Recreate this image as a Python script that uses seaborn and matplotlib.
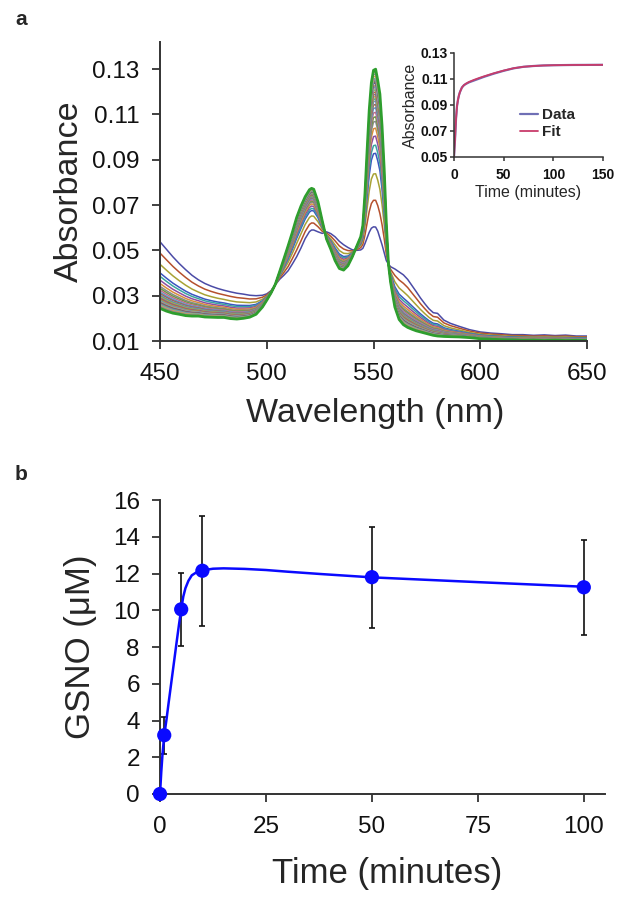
import numpy as np
import pandas as pd
import matplotlib
matplotlib.use("Agg")
import matplotlib.pyplot as plt
import seaborn as sns

# ---------------- data: panel a spectra ----------------
wavelength = [450, 453, 456, 459, 462, 465, 468, 471, 474, 477, 480, 483, 486, 489, 492, 495, 498,
              500, 502, 504, 506, 508, 510, 512, 514, 516, 518, 520, 521, 522, 524, 526, 528, 530,
              532, 534, 536, 538, 540, 542, 544, 545, 546, 547, 548, 549, 550, 551, 552, 553, 554,
              555, 556, 557, 558, 560, 562, 564, 566, 568, 570, 572, 574, 576, 578, 580, 583, 586,
              590, 595, 600, 605, 610, 615, 620, 625, 630, 635, 640, 645, 650]

spectrum_first = [0.0538, 0.0505, 0.0472, 0.0442, 0.0415, 0.0390, 0.0370, 0.0354, 0.0342, 0.0332,
                  0.0324, 0.0317, 0.0311, 0.0307, 0.0302, 0.0300, 0.0302, 0.0308, 0.0322, 0.0348,
                  0.0372, 0.0390, 0.0410, 0.0440, 0.0472, 0.0510, 0.0552, 0.0583, 0.0590, 0.0590,
                  0.0582, 0.0575, 0.0582, 0.0574, 0.0560, 0.0540, 0.0525, 0.0513, 0.0503, 0.0500,
                  0.0502, 0.0509, 0.0530, 0.0555, 0.0580, 0.0598, 0.0604, 0.0603, 0.0585, 0.0555,
                  0.0525, 0.0490, 0.0455, 0.0440, 0.0428, 0.0418, 0.0405, 0.0392, 0.0372, 0.0345,
                  0.0318, 0.0290, 0.0265, 0.0242, 0.0225, 0.0222, 0.0192, 0.0178, 0.0165, 0.0150,
                  0.0140, 0.0135, 0.0132, 0.0128, 0.0128, 0.0125, 0.0127, 0.0124, 0.0126, 0.0122,
                  0.0122]

spectrum_last = [0.0244, 0.0232, 0.0223, 0.0218, 0.0212, 0.0210, 0.0210, 0.0206, 0.0205, 0.0204,
                 0.0204, 0.0199, 0.0197, 0.0200, 0.0205, 0.0218, 0.0250, 0.0280, 0.0312, 0.0350,
                 0.0405, 0.0462, 0.0520, 0.0580, 0.0645, 0.0695, 0.0737, 0.0768, 0.0774, 0.0770,
                 0.0715, 0.0630, 0.0550, 0.0505, 0.0455, 0.0420, 0.0413, 0.0432, 0.0470, 0.0515,
                 0.0560, 0.0610, 0.0750, 0.0940, 0.1120, 0.1240, 0.1295, 0.1300, 0.1250, 0.1190,
                 0.1050, 0.0860, 0.0620, 0.0440, 0.0360, 0.0250, 0.0195, 0.0172, 0.0160, 0.0152,
                 0.0145, 0.0140, 0.0135, 0.0130, 0.0125, 0.0122, 0.0120, 0.0119, 0.0118, 0.0115,
                 0.0110, 0.0108, 0.0106, 0.0105, 0.0103, 0.0104, 0.0102, 0.0104, 0.0102, 0.0103,
                 0.0102]

# peak height at ~551 nm of each scan
peak_heights = [0.0604, 0.0722, 0.0839, 0.0929, 0.0965, 0.1005, 0.1040, 0.1070, 0.1090, 0.1110,
                0.1130, 0.1145, 0.1160, 0.1170, 0.1180, 0.1190, 0.1200, 0.1210, 0.1220, 0.1225,
                0.1230, 0.1240, 0.1245, 0.1250, 0.1255, 0.1260, 0.1270, 0.1280, 0.1290, 0.1300]

scan_colors = ['#4b4ba6', '#b5502d', '#a8a235', '#3a54c0', '#3aa5a0', '#8e4fa0', '#d98c3a',
               '#8a8a8a', '#6e9a45', '#c06d8a', '#5a9ad0', '#a06a4a', '#8a7ac0', '#4aa88a',
               '#c8a640', '#6a7a9a', '#c05050', '#90b050', '#9a6ab0', '#4ab0c8', '#c89a6a',
               '#4a5aa0', '#a04a5a', '#5a9a5a', '#b060a0', '#50b0b0', '#e0a050', '#8a80a0',
               '#9a9a50', '#2e9e2e']

# inset kinetics
inset_time = [0, 0.5, 1, 2, 3, 4, 5, 6, 8, 10, 12, 15, 20, 25, 30, 40, 50, 60, 70, 80, 90, 100, 120, 150]
inset_data = [0.050, 0.057, 0.063, 0.079, 0.089, 0.094, 0.0975, 0.1000, 0.1035, 0.1052, 0.1062,
              0.1074, 0.1088, 0.1102, 0.1116, 0.1141, 0.1163, 0.1182, 0.1194, 0.1200, 0.1204,
              0.1206, 0.1208, 0.1209]
inset_fit = [0.050, 0.057, 0.063, 0.079, 0.089, 0.094, 0.0975, 0.1000, 0.1035, 0.1053, 0.1064,
             0.1077, 0.1093, 0.1107, 0.1120, 0.1144, 0.1165, 0.1183, 0.1194, 0.1200, 0.1204,
             0.1206, 0.1208, 0.1209]

# ---------------- data: panel b ----------------
gsno_time = [0, 1, 5, 10, 50, 100]
gsno_mean = [0.0, 3.2, 10.05, 12.15, 11.8, 11.25]
gsno_err = [0.0, 1.0, 2.0, 3.0, 2.75, 2.6]

fit_time = [0, 0.3, 0.6, 1, 1.5, 2, 3, 4, 4.5, 5, 5.5, 6, 6.7, 7.5, 8.5, 10, 12.5, 15, 20, 25,
            30, 38, 50, 75, 100]
fit_gsno = [0.0, 1.2, 2.2, 3.2, 4.0, 4.9, 6.65, 8.4, 9.25, 10.05, 10.75, 11.2, 11.6, 11.9, 12.05,
            12.17, 12.26, 12.28, 12.25, 12.19, 12.1, 11.97, 11.79, 11.53, 11.28]

# ---------------- style ----------------
sns.set_theme(style="ticks")
plt.rcParams['font.family'] = ['Liberation Sans', 'DejaVu Sans']
plt.rcParams['axes.linewidth'] = 1.4
plt.rcParams['axes.edgecolor'] = '#333333'
plt.rcParams['xtick.color'] = '#333333'
plt.rcParams['ytick.color'] = '#333333'
plt.rcParams['xtick.labelcolor'] = '#111111'
plt.rcParams['ytick.labelcolor'] = '#111111'

W, H = 624, 905
fig = plt.figure(figsize=(W / 100, H / 100), dpi=100)


def frac(x0, y0, x1, y1):
    return [x0 / W, 1 - y1 / H, (x1 - x0) / W, (y1 - y0) / H]


# ---------------- panel a ----------------
ax_a = fig.add_axes(frac(160, 42, 587, 341))
wl = np.array(wavelength)
s0 = np.array(spectrum_first)
s1 = np.array(spectrum_last)
p = np.array(peak_heights)
rows = []
for i, ph in enumerate(peak_heights):
    f = (ph - p[0]) / (p[-1] - p[0])
    spec = s0 + f * (s1 - s0)
    rows.append(pd.DataFrame({'wl': wl, 'A': spec, 'scan': i}))
df_spec = pd.concat(rows, ignore_index=True)

n = len(peak_heights)
sns.lineplot(data=df_spec[df_spec.scan < n - 1], x='wl', y='A', hue='scan',
             palette=scan_colors[:n - 1], legend=False, estimator=None, sort=False,
             linewidth=1.1, ax=ax_a)
sns.lineplot(data=df_spec[df_spec.scan == n - 1], x='wl', y='A', color=scan_colors[-1],
             legend=False, estimator=None, sort=False, linewidth=2.0, ax=ax_a)

ax_a.set_xlim(450, 650)
ax_a.set_ylim(0.01, 0.142)
ax_a.set_xticks([450, 500, 550, 600, 650])
ax_a.set_yticks([0.01, 0.03, 0.05, 0.07, 0.09, 0.11, 0.13])
ax_a.set_yticklabels(['0.01', '0.03', '0.05', '0.07', '0.09', '0.11', '0.13'])
ax_a.tick_params(axis='both', direction='out', length=5.5, width=1.3, labelsize=17.5)
ax_a.tick_params(axis='y', pad=9)
ax_a.tick_params(axis='x', pad=10)
sns.despine(ax=ax_a)
ax_a.set_xlabel('Wavelength (nm)', fontsize=24.5)
ax_a.set_ylabel('Absorbance', fontsize=24.5)
ax_a.xaxis.set_label_coords(0.505, -0.19)
ax_a.yaxis.set_label_coords(-0.176, 0.5)

# inset
ax_in = fig.add_axes(frac(454, 53, 603, 157))
df_in = pd.DataFrame({'t': inset_time, 'data': inset_data, 'fit': inset_fit})
sns.lineplot(data=df_in, x='t', y='data', color='#6f6fb5', linewidth=1.6, ax=ax_in, label='Data')
sns.lineplot(data=df_in, x='t', y='fit', color='#c83c6a', linewidth=1.3, ax=ax_in, label='Fit')
ax_in.set_xlim(0, 150)
ax_in.set_ylim(0.05, 0.13)
ax_in.set_xticks([0, 50, 100, 150])
ax_in.set_yticks([0.05, 0.07, 0.09, 0.11, 0.13])
ax_in.set_yticklabels(['0.05', '0.07', '0.09', '0.11', '0.13'])
ax_in.tick_params(axis='both', direction='out', length=3, width=1.1, labelsize=10)
ax_in.tick_params(axis='y', pad=1.5)
ax_in.tick_params(axis='x', pad=5)
for lab in ax_in.get_xticklabels() + ax_in.get_yticklabels():
    lab.set_fontweight('bold')
for sp in ['left', 'bottom']:
    ax_in.spines[sp].set_linewidth(1.1)
sns.despine(ax=ax_in)
ax_in.set_xlabel('Time (minutes)', fontsize=11.5)
ax_in.set_ylabel('Absorbance', fontsize=11.5)
ax_in.xaxis.set_label_coords(0.5, -0.27)
ax_in.yaxis.set_label_coords(-0.245, 0.5)
ax_in.legend(loc='upper left', bbox_to_anchor=(0.44, 0.47), frameon=False,
             prop={'weight': 'bold', 'size': 11}, handlelength=1.2, handletextpad=0.25,
             labelspacing=0.2, borderpad=0, borderaxespad=0)

# ---------------- panel b ----------------
ax_b = fig.add_axes(frac(160, 500, 605, 794))
ax_b.errorbar(gsno_time, gsno_mean, yerr=gsno_err, fmt='none', ecolor='#111111',
              elinewidth=1.2, capsize=2.5, capthick=1.2, zorder=2, clip_on=False)
df_fit = pd.DataFrame({'t': fit_time, 'g': fit_gsno})
sns.lineplot(data=df_fit, x='t', y='g', color='#0a0aff', linewidth=1.8, estimator=None,
             sort=False, ax=ax_b, zorder=3)
df_pts = pd.DataFrame({'t': gsno_time, 'g': gsno_mean})
sns.scatterplot(data=df_pts, x='t', y='g', color='#0a0aff', s=105, edgecolor='none',
                ax=ax_b, zorder=4, clip_on=False)
ax_b.set_xlim(0, 105)
ax_b.set_ylim(0, 16)
ax_b.set_xticks([0, 25, 50, 75, 100])
ax_b.set_yticks(list(range(0, 17, 2)))
ax_b.tick_params(axis='both', direction='out', length=5.5, width=1.3, labelsize=17.5)
ax_b.tick_params(axis='y', pad=9)
ax_b.tick_params(axis='x', pad=10)
sns.despine(ax=ax_b)
ax_b.set_xlabel('Time (minutes)', fontsize=25)
ax_b.set_ylabel('GSNO (\u03bcM)', fontsize=25)
ax_b.xaxis.set_label_coords(0.51, -0.215)
ax_b.yaxis.set_label_coords(-0.142, 0.5)

fig.text(15 / W, 1 - 25 / H, 'a', fontsize=15, fontweight='bold', va='baseline', ha='left')
fig.text(15 / W, 1 - 480 / H, 'b', fontsize=15, fontweight='bold', va='baseline', ha='left')

fig.savefig('out.png', dpi=100)
